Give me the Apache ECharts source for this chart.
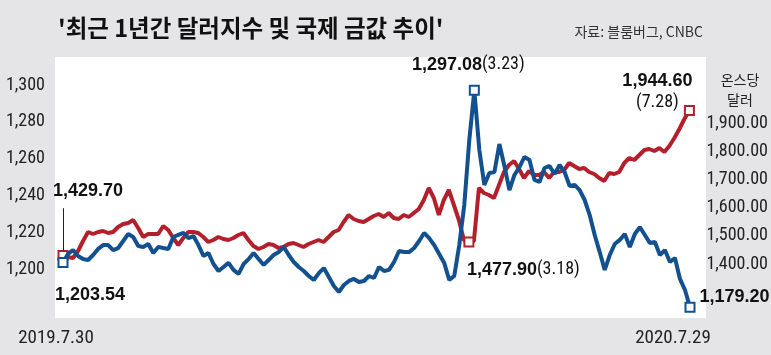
<!DOCTYPE html>
<html>
<head>
<meta charset="utf-8">
<script src="https://cdn.jsdelivr.net/npm/echarts@6/dist/echarts.min.js"></script>
<style>
  html, body { margin: 0; padding: 0; background: #e5e5e7; }
  #chart { width: 771px; height: 355px; }
</style>
</head>
<body>
<div id="chart"></div>
<script>
const dateLabels = ['2019.7.30', '2020.7.29']
const leftTicks = [1200, 1220, 1240, 1260, 1280, 1300]
const rightTicks = [1400, 1500, 1600, 1700, 1800, 1900]

// blue line, left axis
const wonPerDollar = [
  1203.54, 1208.2, 1210.3, 1207.1, 1205.4, 1204.9, 1207.6, 1210.9, 1213.0, 1213.0,
  1210.3, 1211.4, 1215.2, 1219.0, 1217.4, 1212.5, 1212.0, 1213.6, 1208.7, 1212.0,
  1211.4, 1210.9, 1217.4, 1218.5, 1219.6, 1216.8, 1217.9, 1213.0, 1207.1, 1208.7,
  1202.7, 1198.9, 1201.1, 1203.3, 1199.5, 1197.3, 1202.7, 1205.4, 1208.7, 1205.4,
  1202.2, 1204.9, 1207.6, 1209.2, 1212.0, 1207.6, 1203.8, 1201.1, 1198.9, 1196.2,
  1194.0, 1197.8, 1200.5, 1195.7, 1190.8, 1187.5, 1191.3, 1193.5, 1194.6, 1192.9,
  1193.5, 1196.2, 1195.1, 1201.1, 1198.9, 1199.5, 1203.8, 1209.8, 1209.2, 1209.2,
  1211.4, 1215.2, 1219.6, 1216.8, 1213.0, 1208.2, 1203.3, 1194.0, 1196.2, 1213.0,
  1234.8, 1270.1, 1297.08, 1264.7, 1245.7, 1252.2, 1252.7, 1267.9, 1256.0, 1242.9,
  1251.1, 1255.4, 1260.9, 1259.2, 1248.4, 1247.3, 1254.9, 1256.0, 1251.6, 1256.5,
  1252.7, 1245.1, 1245.7, 1242.9, 1237.5, 1229.3, 1218.5, 1209.2, 1199.5, 1207.6,
  1213.6, 1215.8, 1219.0, 1212.0, 1219.0, 1222.8, 1218.5, 1214.1, 1214.7, 1207.6,
  1210.3, 1203.8, 1206.0, 1194.6, 1188.6, 1179.20
]

// red line, right axis (dollars per ounce)
const goldPrice = [
  1429.70, 1424.8, 1421.3, 1446.1, 1481.6, 1513.5, 1506.4, 1513.5, 1517.0, 1509.9,
  1513.5, 1531.2, 1541.8, 1545.4, 1556.0, 1527.7, 1495.7, 1506.4, 1506.4, 1506.4,
  1534.8, 1520.6, 1492.2, 1467.4, 1492.2, 1513.5, 1513.5, 1509.9, 1495.7, 1478.0,
  1485.1, 1495.7, 1488.7, 1485.1, 1492.2, 1502.8, 1509.9, 1485.1, 1463.8, 1453.2,
  1460.3, 1470.9, 1467.4, 1456.7, 1460.3, 1470.9, 1474.5, 1467.4, 1460.3, 1470.9,
  1478.0, 1485.1, 1478.0, 1495.7, 1513.5, 1520.6, 1548.9, 1573.8, 1559.6, 1552.5,
  1548.9, 1559.6, 1570.2, 1577.3, 1566.7, 1580.9, 1563.1, 1559.6, 1573.8, 1566.7,
  1580.9, 1595.0, 1627.0, 1669.5, 1634.0, 1573.8, 1627.0, 1662.4, 1609.2, 1556.0,
  1485.1, 1477.90, 1481.6, 1669.5, 1651.8, 1644.7, 1634.0, 1680.1, 1726.2, 1751.1,
  1765.2, 1736.9, 1705.0, 1729.8, 1715.6, 1715.6, 1726.2, 1705.0, 1726.2, 1726.2,
  1733.3, 1758.2, 1747.5, 1736.9, 1740.4, 1726.2, 1719.1, 1705.0, 1694.3, 1722.7,
  1719.1, 1726.2, 1758.2, 1775.9, 1768.8, 1786.5, 1804.3, 1807.8, 1800.7, 1811.3,
  1797.2, 1818.4, 1846.8, 1878.7, 1914.2, 1944.60
]

// points that carry a note: index into the arrays and the date shown
const blueNotes = [
  { index: 0, date: '' },
  { index: 82, date: '3.23' },
  { index: 125, date: '' }
]
const redNotes = [
  { index: 0, date: '' },
  { index: 81, date: '3.18' },
  { index: 125, date: '7.28' }
]

const BLUE = '#12508f'
const RED = '#b3202c'
const NARROW = "'Liberation Sans Narrow', 'Arial Narrow', 'Roboto Condensed', 'DejaVu Sans Condensed', sans-serif"
const BOLD = "'Liberation Sans', Arial, sans-serif"
const KR = "'Noto Sans CJK KR', sans-serif"

const categories = wonPerDollar.map((_, i) => String(i))
const fmt = (v, d) => v.toLocaleString('en-US', { minimumFractionDigits: d, maximumFractionDigits: d })

const rich = {
  b: { fontFamily: BOLD, fontWeight: 'bold', fontSize: 18, color: '#111', lineHeight: 22 },
  n: { fontFamily: NARROW, fontSize: 18, color: '#111', lineHeight: 22 }
}

// label placement for each noted point
const blueLabel = {
  0: v => ({ position: 'bottom', align: 'left', offset: [-8, 11], formatter: `{b|${fmt(v, 2)}}` }),
  82: (v, d) => ({ position: 'top', offset: [-6, -4], formatter: `{b|${fmt(v, 2)}}{n|(${d})}` }),
  125: v => ({ position: 'right', offset: [-1, -10], formatter: `{b|${fmt(v, 2)}}` })
}
const redLabel = {
  0: v => ({ position: 'top', align: 'left', offset: [-10, -43], formatter: `{b|${fmt(v, 2)}}` }),
  81: (v, d) => ({ position: 'bottom', align: 'left', offset: [-2, 6], formatter: `{b|${fmt(v, 2)}}{n|(${d})}` }),
  125: (v, d) => ({ position: 'top', offset: [-32, 14], formatter: `{b|${fmt(v, 2)}}\n{n|(${d})}` })
}

function buildData (values, notes, labels, color) {
  const data = values.map(v => ({ value: v }))
  notes.forEach(n => {
    const v = values[n.index]
    data[n.index] = {
      value: v,
      symbol: 'rect',
      symbolSize: 9,
      itemStyle: { color: '#fff', borderColor: color, borderWidth: 2 },
      label: Object.assign({ show: true, rich: rich }, labels[n.index](v, n.date))
    }
  })
  return data
}

const myChart = echarts.init(document.getElementById('chart'))
myChart.setOption({
  animation: false,
  backgroundColor: '#e5e5e7',
  graphic: [
    { type: 'rect', shape: { x: 55, y: 57, width: 651, height: 261 }, style: { fill: '#fff' }, z: -10 },
    { type: 'text', x: 740, y: 70, style: { text: '온스당\n달러', textAlign: 'center', textVerticalAlign: 'top', fontFamily: KR, fontSize: 14, lineHeight: 20, fill: '#222' } }
  ],
  title: [
    {
      text: "'최근 1년간 달러지수 및 국제 금값 추이'",
      left: 58, top: 16, padding: 0,
      textStyle: { fontFamily: KR, fontWeight: 'bold', fontSize: 23.5, color: '#111' }
    },
    {
      text: '자료: 블룸버그, CNBC',
      right: 68, top: 25, padding: 0,
      textStyle: { fontFamily: KR, fontWeight: 'normal', fontSize: 14, color: '#333' }
    }
  ],
  grid: [
    { left: 63, right: 81, top: 48.2, bottom: 12.4 },
    { left: 63, right: 81, top: 38.4, bottom: 6.4 }
  ],
  xAxis: [
    {
      gridIndex: 0,
      type: 'category',
      data: categories,
      boundaryGap: false,
      axisLine: { show: false },
      axisTick: { show: false },
      splitLine: { show: false },
      axisLabel: {
        margin: -14,
        interval: i => i === 0 || i === categories.length - 1,
        formatter: (v, i) => i === 0 ? `{l|${dateLabels[0]}}` : `{r|${dateLabels[1]}}`,
        rich: {
          l: { fontFamily: NARROW, fontSize: 19, color: '#222', padding: [0, 14, 0, 0] },
          r: { fontFamily: NARROW, fontSize: 19, color: '#222', padding: [0, 34, 0, 0] }
        }
      }
    },
    {
      gridIndex: 1,
      type: 'category',
      data: categories,
      boundaryGap: false,
      show: false
    }
  ],
  yAxis: [
    {
      gridIndex: 0,
      type: 'value',
      position: 'left',
      min: 1160,
      max: 1320,
      interval: 20,
      axisLine: { show: false },
      axisTick: { show: false },
      splitLine: { show: false },
      axisLabel: {
        margin: 18,
        fontFamily: NARROW,
        fontSize: 18,
        color: '#222',
        formatter: v => leftTicks.includes(v) ? fmt(v, 0) : ''
      }
    },
    {
      gridIndex: 1,
      type: 'value',
      position: 'right',
      min: 1100,
      max: 2200,
      interval: 100,
      axisLine: { show: false },
      axisTick: { show: false },
      splitLine: { show: false },
      axisLabel: {
        margin: 17,
        fontFamily: NARROW,
        fontSize: 18,
        color: '#222',
        formatter: v => rightTicks.includes(v) ? fmt(v, 2) : ''
      }
    }
  ],
  series: [
    {
      name: 'gold',
      type: 'line',
      xAxisIndex: 1,
      yAxisIndex: 1,
      data: buildData(goldPrice, redNotes, redLabel, RED),
      symbol: 'none',
      showSymbol: true,
      showAllSymbol: true,
      clip: false,
      z: 2,
      lineStyle: { color: RED, width: 4 },
      itemStyle: { color: RED },
      markLine: {
        silent: true,
        symbol: 'none',
        label: { show: false },
        lineStyle: { color: '#222', width: 1, type: 'solid' },
        data: [[{ coord: [categories[0], 1598] }, { coord: [categories[0], 1447] }]]
      }
    },
    {
      name: 'dollar',
      type: 'line',
      xAxisIndex: 0,
      yAxisIndex: 0,
      data: buildData(wonPerDollar, blueNotes, blueLabel, BLUE),
      symbol: 'none',
      showSymbol: true,
      showAllSymbol: true,
      clip: false,
      z: 3,
      lineStyle: { color: BLUE, width: 4 },
      itemStyle: { color: BLUE }
    }
  ]
})
</script>
</body>
</html>
